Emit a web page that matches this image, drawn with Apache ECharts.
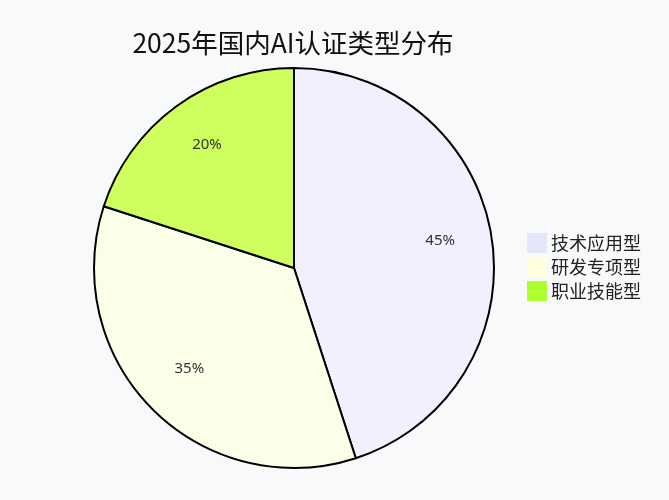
<!DOCTYPE html>
<html><head><meta charset="utf-8">
<script src="https://cdn.jsdelivr.net/npm/echarts@6/dist/echarts.min.js"></script>
<style>html,body{margin:0;padding:0;background:#f8f9fb}#c{width:669px;height:500px}</style>
</head><body><div id="c"></div>
<script>
const titleText = '2025年国内AI认证类型分布';
const categories = ['技术应用型', '研发专项型', '职业技能型'];
const values = [45, 35, 20];
const sliceColors = ['#f1f0ff', '#fcffe8', '#cfff5f'];
const legendColors = ['#e6e6fa', '#ffffe0', '#adff2f'];

const chart = echarts.init(document.getElementById('c'));
chart.setOption({
  backgroundColor: '#f8f9fb',
  animation: false,
  title: {
    text: titleText, left: 288, top: 25, textAlign: 'center',
    textStyle: {fontFamily: 'Noto Sans CJK SC', fontSize: 26.5, fontWeight: 'normal', color: '#111'}
  },
  legend: {
    orient: 'vertical', left: 522, top: 228,
    itemWidth: 20, itemHeight: 20, itemGap: 4,
    icon: 'rect',
    textStyle: {fontFamily: 'Noto Sans CJK SC', fontSize: 18, color: '#222', padding: [0,0,0,-1]},
    data: categories.map((c, i) => ({name: c, itemStyle: {color: legendColors[i], borderWidth: 0}}))
  },
  series: [{
    type: 'pie', center: [294, 268], radius: [0, 200], startAngle: 90, clockwise: true,
    label: {show: false}, labelLine: {show: false}, silent: true,
    itemStyle: {borderColor: '#000', borderWidth: 2},
    data: categories.map((c, i) => ({name: c, value: values[i], itemStyle: {color: sliceColors[i]}}))
  }, {
    type: 'pie', center: [294, 264], radius: [90, 200], startAngle: 90, clockwise: true,
    silent: true, legendHoverLink: false,
    itemStyle: {color: 'rgba(0,0,0,0)', borderWidth: 0},
    label: {show: true, position: 'inside', formatter: '{c}%', fontFamily: 'Noto Sans', fontSize: 15, color: '#333'},
    labelLine: {show: false},
    data: categories.map((c, i) => ({name: c + ' ', value: values[i]}))
  }]
});
</script></body></html>
